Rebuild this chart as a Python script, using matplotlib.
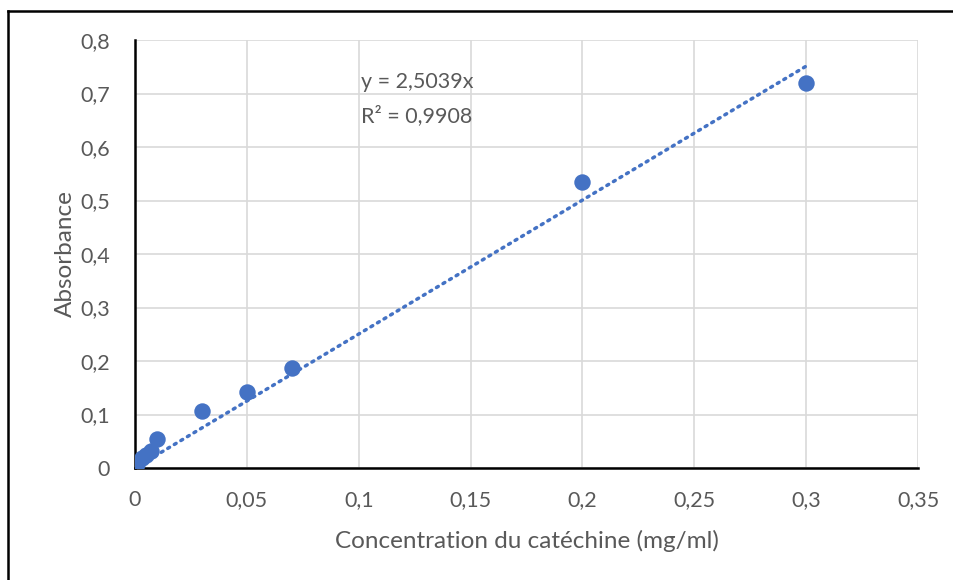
import matplotlib
matplotlib.use("Agg")
import matplotlib.pyplot as plt
import numpy as np
from matplotlib.lines import Line2D
from matplotlib.ticker import FuncFormatter

conc = [0.001, 0.003, 0.005, 0.007, 0.01, 0.03, 0.05, 0.07, 0.2, 0.3]
absorb = [0.007, 0.018, 0.025, 0.032, 0.054, 0.107, 0.143, 0.187, 0.535, 0.719]
slope = 2.5039
r2 = 0.9908
xticks = [0, 0.05, 0.1, 0.15, 0.2, 0.25, 0.3, 0.35]
yticks = [0, 0.1, 0.2, 0.3, 0.4, 0.5, 0.6, 0.7, 0.8]

plt.rcParams['font.family'] = ['Lato', 'DejaVu Sans']
grey = '#595959'
blue = '#4472C4'

fig = plt.figure(figsize=(9.54, 5.8), dpi=100)
ax = fig.add_axes([0.1415, 0.1931, 0.8208, 0.7379])

xfit = np.array([0, conc[-1]])
ax.plot(xfit, slope * xfit, color=blue, lw=2.5, ls=(0, (0.6, 1.6)),
        dash_capstyle='round', zorder=2)
ax.scatter(conc, absorb, s=140, color=blue, zorder=3, linewidths=0)

ax.set_xlim(0, 0.35)
ax.set_ylim(0, 0.8)
ax.set_xticks(xticks)
ax.set_yticks(yticks)
fmt = FuncFormatter(lambda v, p: ('%g' % round(v, 2)).replace('.', ','))
ax.xaxis.set_major_formatter(fmt)
ax.yaxis.set_major_formatter(fmt)
ax.grid(True, color='#d9d9d9', lw=1.2, zorder=0)
ax.set_axisbelow(True)
for s in ['top', 'right']:
    ax.spines[s].set_visible(False)
for s in ['left', 'bottom']:
    ax.spines[s].set_color('black')
    ax.spines[s].set_linewidth(1.8)
ax.tick_params(length=0, labelsize=15.5, labelcolor=grey)
ax.tick_params(axis='x', pad=16)
ax.tick_params(axis='y', pad=18)

ax.set_xlabel('Concentration du catéchine (mg/ml)', fontsize=17.5, color=grey, labelpad=14)
ax.set_ylabel('Absorbance', fontsize=17.5, color=grey, labelpad=3)

ax.text(0.101, 0.722, 'y = %s' % ('%.4f' % slope).replace('.', ',') + 'x',
        fontsize=15.5, color=grey, va='center')
ax.text(0.101, 0.658, 'R² = %s' % ('%.4f' % r2).replace('.', ','),
        fontsize=15.5, color=grey, va='center')

# chart border (cut at right and bottom in the source image)
fig.add_artist(Line2D([8 / 954, 1], [1 - 11 / 580, 1 - 11 / 580], color='black', lw=1.8))
fig.add_artist(Line2D([8 / 954, 8 / 954], [1 - 11 / 580, 0], color='black', lw=1.8))

fig.savefig('out.png', dpi=100)
